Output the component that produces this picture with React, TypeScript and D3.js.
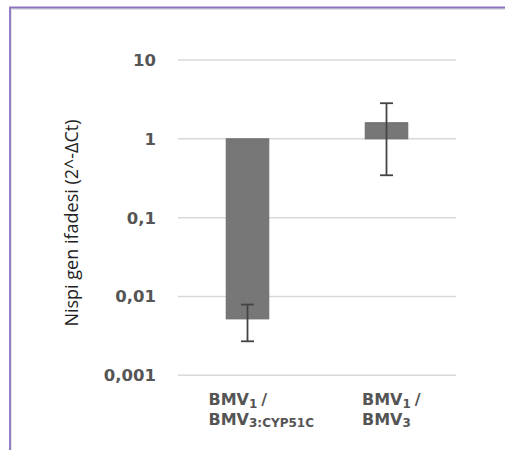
import { useEffect, useRef } from "react";
import { select, scaleLog, scaleBand } from "d3";

// values (log scale, bars start at 1)
const categories = ["BMV1/BMV3:CYP51C", "BMV1/BMV3"];
const values = [0.0052, 1.6];
const errLow = [0.0027, 0.345];
const errHigh = [0.0079, 2.83];
const tickValues = [10, 1, 0.1, 0.01, 0.001];
const tickLabels = ["10", "1", "0,1", "0,01", "0,001"];
// label lines: [main, subscript, tail]
const labelLines = [
  [["BMV", "1", "/"], ["BMV", "3:CYP51C", ""]],
  [["BMV", "1", "/"], ["BMV", "3", ""]],
];
const yTitle = "Nispi gen ifadesi (2^-ΔCt)";

function App() {
  const ref = useRef<SVGSVGElement>(null);

  useEffect(() => {
    const svg = select(ref.current);
    svg.selectAll("*").remove();
    const font = "DejaVu Sans, sans-serif";

    const x = scaleBand()
      .domain(categories)
      .range([178, 456])
      .paddingInner(0.694)
      .paddingOuter(0.347);
    const y = scaleLog().domain([0.001, 10]).range([375.3, 60]);

    // frame
    svg.append("rect").attr("width", 505).attr("height", 450).attr("fill", "#fff");
    svg
      .append("path")
      .attr("d", "M11,452V9H507")
      .attr("fill", "none")
      .attr("stroke", "#e4e4e4")
      .attr("stroke-width", 2);
    svg
      .append("path")
      .attr("d", "M10,452V7.5H507")
      .attr("fill", "none")
      .attr("stroke", "#8b73bf")
      .attr("stroke-width", 1.8);

    // gridlines
    svg
      .append("g")
      .selectAll("line")
      .data(tickValues)
      .enter()
      .append("line")
      .attr("x1", 178)
      .attr("x2", 456)
      .attr("y1", (d) => y(d))
      .attr("y2", (d) => y(d))
      .attr("stroke", "#d9d9d9")
      .attr("stroke-width", 1.5);

    // tick labels
    svg
      .append("g")
      .selectAll("text")
      .data(tickValues)
      .enter()
      .append("text")
      .attr("x", 156)
      .attr("y", (d) => y(d))
      .attr("dy", "0.36em")
      .attr("text-anchor", "end")
      .attr("font-family", font)
      .attr("font-size", 16.5)
      .attr("font-weight", "bold")
      .attr("fill", "#555")
      .text((d, i) => tickLabels[i]);

    // bars
    svg
      .append("g")
      .selectAll("rect")
      .data(categories)
      .enter()
      .append("rect")
      .attr("x", (d) => x(d)!)
      .attr("width", x.bandwidth())
      .attr("y", (d, i) => Math.min(y(1), y(values[i])))
      .attr("height", (d, i) => Math.abs(y(1) - y(values[i])))
      .attr("fill", "#777")
      .attr("stroke", "#6b6b6b")
      .attr("stroke-width", 1);

    // error bars
    const eb = svg.append("g").attr("stroke", "#444").attr("stroke-width", 1.8);
    categories.forEach((c, i) => {
      const cx = x(c)! + x.bandwidth() / 2;
      eb.append("line")
        .attr("x1", cx)
        .attr("x2", cx)
        .attr("y1", y(errHigh[i]))
        .attr("y2", y(errLow[i]));
      [errHigh[i], errLow[i]].forEach((v) => {
        eb.append("line")
          .attr("x1", cx - 6.5)
          .attr("x2", cx + 6.5)
          .attr("y1", y(v))
          .attr("y2", y(v));
      });
    });

    // category labels
    const labelDx = [-39, -24.5];
    categories.forEach((c, i) => {
      const cx = x(c)! + x.bandwidth() / 2;
      const t = svg
        .append("text")
        .attr("font-family", font)
        .attr("font-size", 16)
        .attr("font-weight", "bold")
        .attr("fill", "#555");
      labelLines[i].forEach((line, j) => {
        const base = 405 + j * 19.5;
        t.append("tspan").attr("x", cx + labelDx[i]).attr("y", base).text(line[0]);
        t.append("tspan").attr("y", base + 2.5).attr("font-size", 12).text(line[1]);
        if (line[2]) t.append("tspan").attr("y", base).attr("dx", 4).text(line[2]);
      });
    });

    // y-axis title
    svg
      .append("text")
      .attr("transform", "translate(78,223) rotate(-90)")
      .attr("text-anchor", "middle")
      .attr("font-family", "Open Sans, sans-serif")
      .attr("font-size", 18)
      .attr("fill", "#222")
      .text(yTitle);
  }, []);

  return (
    <svg
      ref={ref}
      width={505}
      height={450}
      style={{ position: "absolute", left: 0, top: 0 }}
    />
  );
}

export default App;
